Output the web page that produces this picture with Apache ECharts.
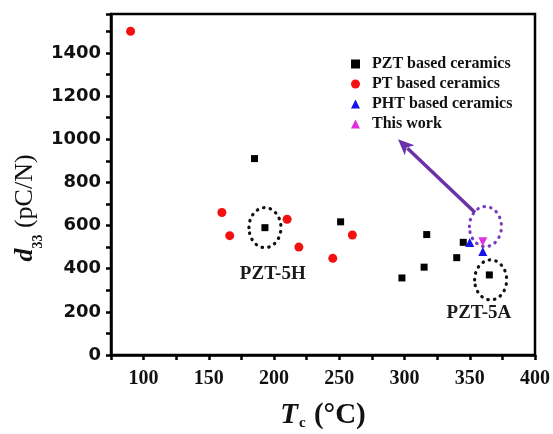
<!DOCTYPE html>
<html>
<head>
<meta charset="utf-8">
<script src="https://cdn.jsdelivr.net/npm/echarts@6/dist/echarts.min.js"></script>
<style>
  html, body { margin: 0; padding: 0; background: #fff; }
  #chart { width: 553px; height: 434px; }
</style>
</head>
<body>
<div id="chart"></div>
<script>
// Curie temperature Tc (°C) against piezoelectric coefficient d33 (pC/N)
const pztTc   = [185, 193, 251, 298, 315, 317, 340, 345, 365];
const pztD33  = [910, 590, 617, 357, 407, 558, 451, 522, 371];
const ptTc    = [90, 160, 166, 210, 219, 245, 260];
const ptD33   = [1500, 660, 553, 629, 500, 448, 556];
const phtTc   = [350, 360];
const phtD33  = [521, 479];
const workTc  = [360];
const workD33 = [525];

const seriesNames = ['PZT based ceramics', 'PT based ceramics', 'PHT based ceramics', 'This work'];

// axis tick labels
const xTickLabels = [100, 150, 200, 250, 300, 350, 400];
const yTickLabels = [0, 200, 400, 600, 800, 1000, 1200, 1400];

// annotations (data coordinates)
const dottedRings   = [[193, 590], [366, 348]];
const highlightRing = [[362, 595]];
const arrowPath     = [[354, 660], [295, 1000]];
const noteNames     = ['PZT-5H', 'PZT-5A'];
const notePlaces    = [[199, 375], [357, 195]];

const zip = (a, b) => a.map((v, i) => [v, b[i]]);
const SERIF = "'Liberation Serif','Times New Roman',serif";
const SANS = "'DejaVu Sans',Arial,sans-serif";

const chart = echarts.init(document.getElementById('chart'), null, { renderer: 'canvas' });

function ringItem(color) {
  return function (params, api) {
    const c = api.coord([api.value(0), api.value(1)]);
    return {
      type: 'ellipse',
      shape: { cx: c[0], cy: c[1], rx: 16, ry: 20 },
      style: { fill: 'none', stroke: color, lineWidth: 3.2, lineDash: [0.5, 6.2], lineCap: 'round' },
      silent: true
    };
  };
}

const option = {
  animation: false,
  backgroundColor: '#fff',
  grid: { left: 111, right: 17, top: 14, bottom: 79, show: true, borderColor: '#000', borderWidth: 2.5, backgroundColor: 'transparent' },
  legend: {
    data: seriesNames,
    orient: 'vertical',
    left: 346,
    top: 51,
    itemWidth: 9,
    itemHeight: 9,
    itemGap: 4,
    textStyle: { fontFamily: SERIF, fontWeight: 'bold', fontSize: 16, color: '#111', lineHeight: 16, padding: [0, 0, 0, 7] }
  },
  xAxis: {
    type: 'value', min: 75, max: 400, interval: 25,
    splitLine: { show: false },
    axisLine: { lineStyle: { color: '#000', width: 2.5 } },
    axisTick: { length: 5, lineStyle: { color: '#000', width: 2.5 } },
    axisLabel: {
      margin: 14, color: '#111', fontFamily: SERIF, fontWeight: 'bold', fontSize: 20,
      formatter: v => (xTickLabels.indexOf(v) >= 0 ? String(v) : '')
    }
  },
  yAxis: {
    type: 'value', min: 0, max: 1580, interval: 100,
    splitLine: { show: false },
    axisLine: { lineStyle: { color: '#000', width: 2.5 } },
    axisTick: { length: 5, lineStyle: { color: '#000', width: 2.5 } },
    axisLabel: {
      margin: 10, color: '#111', fontFamily: SANS, fontWeight: 'bold', fontSize: 18,
      formatter: v => (yTickLabels.indexOf(v) >= 0 ? String(v) : '')
    }
  },
  graphic: [
    {
      type: 'text', x: 26, y: 208, rotation: Math.PI / 2,
      style: {
        text: '{i|d}{s|33}{n| (pC/N)}',
        align: 'center', verticalAlign: 'middle', fill: '#111',
        rich: {
          i: { fontFamily: SERIF, fontStyle: 'italic', fontWeight: 'bold', fontSize: 26, lineHeight: 28, verticalAlign: 'top' },
          s: { fontFamily: SERIF, fontWeight: 'bold', fontSize: 14, lineHeight: 14, padding: [19, 0, 0, 0], verticalAlign: 'top' },
          n: { fontFamily: SERIF, fontSize: 26, lineHeight: 28, verticalAlign: 'top' }
        }
      }
    },
    {
      type: 'text', x: 323, y: 415,
      style: {
        text: '{i|T}{s|c}{n| (°C)}',
        align: 'center', verticalAlign: 'middle', fill: '#111',
        rich: {
          i: { fontFamily: SERIF, fontStyle: 'italic', fontWeight: 'bold', fontSize: 29, lineHeight: 28, verticalAlign: 'top' },
          s: { fontFamily: SERIF, fontWeight: 'bold', fontSize: 15, lineHeight: 14, padding: [15, 1, 0, 1], verticalAlign: 'top' },
          n: { fontFamily: SERIF, fontWeight: 'bold', fontSize: 29, lineHeight: 28, verticalAlign: 'top' }
        }
      }
    }
  ],
  series: [
    {
      name: 'rings', type: 'custom', data: dottedRings, renderItem: ringItem('#111'), z: 1, silent: true
    },
    {
      name: 'highlight', type: 'custom', data: highlightRing, renderItem: ringItem('#7a3cc0'), z: 1, silent: true
    },
    {
      name: 'arrow', type: 'custom', data: [arrowPath[0].concat(arrowPath[1])], z: 1, silent: true,
      renderItem: function (params, api) {
        const a = api.coord([api.value(0), api.value(1)]);
        const b = api.coord([api.value(2), api.value(3)]);
        const ang = Math.atan2(b[1] - a[1], b[0] - a[0]);
        const len = 16, half = 7;
        const bx = b[0] - len * Math.cos(ang), by = b[1] - len * Math.sin(ang);
        const px = -Math.sin(ang) * half, py = Math.cos(ang) * half;
        return {
          type: 'group',
          children: [
            { type: 'line', shape: { x1: a[0], y1: a[1], x2: bx + 3 * Math.cos(ang), y2: by + 3 * Math.sin(ang) },
              style: { stroke: '#6a32a8', lineWidth: 3.5 } },
            { type: 'polygon', shape: { points: [[b[0], b[1]], [bx + px, by + py], [bx + 4 * Math.cos(ang), by + 4 * Math.sin(ang)], [bx - px, by - py]] },
              style: { fill: '#6a32a8' } }
          ]
        };
      }
    },
    {
      name: 'notes', type: 'custom', data: notePlaces, z: 3, silent: true,
      renderItem: function (params, api) {
        const c = api.coord([api.value(0), api.value(1)]);
        return {
          type: 'text', x: c[0], y: c[1],
          style: { text: noteNames[params.dataIndex], align: 'center', verticalAlign: 'middle',
                   fill: '#1a1a1a', font: "bold 19px " + SERIF }
        };
      }
    },
    {
      name: seriesNames[0], type: 'scatter', data: zip(pztTc, pztD33), z: 5,
      symbol: 'rect', symbolSize: 7, itemStyle: { color: '#000', opacity: 1 }
    },
    {
      name: seriesNames[1], type: 'scatter', data: zip(ptTc, ptD33), z: 5,
      symbol: 'circle', symbolSize: 9, itemStyle: { color: '#f21010', opacity: 1 }
    },
    {
      name: seriesNames[2], type: 'scatter', data: zip(phtTc, phtD33), z: 6,
      symbol: 'triangle', symbolSize: 9, itemStyle: { color: '#1515e8', opacity: 1 }
    },
    {
      name: seriesNames[3], type: 'scatter', data: zip(workTc, workD33), z: 6,
      symbol: 'triangle', symbolRotate: 180, symbolSize: 9, itemStyle: { color: '#e030e0', opacity: 1 }
    }
  ]
};

chart.setOption(option);
</script>
</body>
</html>
